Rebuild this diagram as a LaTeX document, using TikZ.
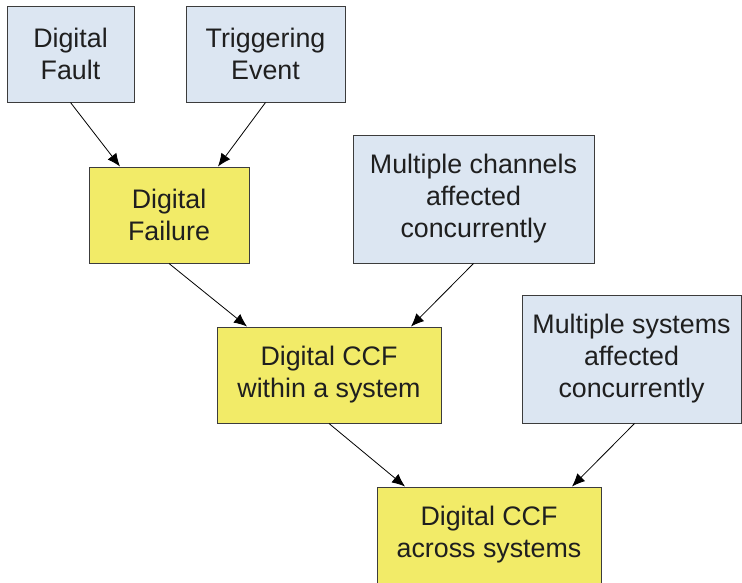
\documentclass[tikz,border=0pt]{standalone}
\usepackage{fontspec}
\setmainfont{Liberation Sans}
\usepackage{tikz}
\usetikzlibrary{arrows.meta}
\definecolor{boxblue}{RGB}{220,230,242}
\definecolor{boxyellow}{RGB}{242,235,104}
\definecolor{boxline}{RGB}{60,60,60}

\begin{document}
\begin{tikzpicture}[x=1pt,y=-1pt,
    box/.style={draw=boxline, line width=1pt, inner sep=0pt, align=center,
      text=black!88, font=\fontsize{26.8}{32}\selectfont},
    cause/.style={box, fill=boxblue},
    effect/.style={box, fill=boxyellow},
    arr/.style={-{Latex[length=13pt,width=11pt]}, line width=0.8pt}]
  \useasboundingbox (0,0) rectangle (742,582);

  % causes
  \node[cause, minimum width=127, minimum height=96] (fault) at (70.5,54) {Digital\\Fault};
  \node[cause, minimum width=159, minimum height=96] (event) at (265.5,54) {Triggering\\Event};
  \node[cause, minimum width=241, minimum height=128] (chan) at (473.5,199)
    {Multiple channels\\affected\\concurrently};
  \node[cause, minimum width=219, minimum height=128] (sys) at (631.5,359)
    {Multiple systems\\affected\\concurrently};

  % failures
  \node[effect, minimum width=160, minimum height=96] (fail) at (169,215) {Digital\\Failure};
  \node[effect, minimum width=224, minimum height=96] (within) at (329,375)
    {Digital CCF\\within a system};
  \node[effect, minimum width=224, minimum height=96] (across) at (489,535)
    {Digital CCF\\across systems};

  % arrows
  \draw[arr] (fault.south) -- ([xshift=-49]fail.north);
  \draw[arr] (event.south) -- ([xshift=49]fail.north);
  \draw[arr] (fail.south) -- ([xshift=-82]within.north);
  \draw[arr] (chan.south) -- ([xshift=82]within.north);
  \draw[arr] (within.south) -- ([xshift=-84]across.north);
  \draw[arr] ([xshift=3]sys.south) -- ([xshift=83]across.north);
\end{tikzpicture}
\end{document}
